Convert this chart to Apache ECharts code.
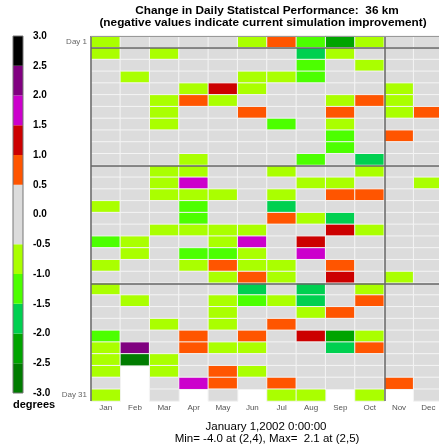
<!DOCTYPE html>
<html>
<head>
<meta charset="utf-8">
<script src="https://cdn.jsdelivr.net/npm/echarts@6/dist/echarts.min.js"></script>
<style>
  html, body { margin: 0; padding: 0; background: #fff; }
  #chart { width: 439px; height: 448px; }
</style>
</head>
<body>
<div id="chart"></div>
<script>
// 月份和日期
var months = ['Jan', 'Feb', 'Mar', 'Apr', 'May', 'Jun', 'Jul', 'Aug', 'Sep', 'Oct', 'Nov', 'Dec'];
var days = [1, 2, 3, 4, 5, 6, 7, 8, 9, 10, 11, 12, 13, 14, 15, 16, 17, 18, 19, 20,
            21, 22, 23, 24, 25, 26, 27, 28, 29, 30, 31];

// 每月逐日数值 (null = 无此日)
var jan = [-0.8, -0.8, 0, 0, 0, 0, 0, 0, 0, 0, 0, 0, 0, 0, -0.8, 0, 0, -1.3, 0, -0.8, 0, -0.8, 0, 0, 0, -1.3, -0.8, -0.8, -0.8, 0, -0.8];
var feb = [0, 0, 0, -0.8, 0, 0, 0, 0, 0, 0, 0, 0, 0, 0, 0, 0, 0, -0.8, -0.8, 0, 0, 0, -0.8, 0, 0, 0, 2.1, -4.0, null, null, null];
var mar = [0, -0.8, 0, 0, 0, -0.8, -0.8, -0.8, 0, 0, 0, -0.8, -0.8, -0.8, 0, 0, -0.8, 0, 0, 0, 0, 0, 0, 0, -0.8, 0, 0, -0.8, -0.8, 0, 0];
var apr = [0, 0, 0, 0, -0.8, 0.8, 0, 0, 0, 0, -0.8, -0.8, 1.8, -0.8, -1.3, -1.3, -0.8, 0, -1.3, -0.8, 0, 0, 0, 0, 0, 0.8, 0.8, 0, 0, 1.8, null];
var may = [0, 0, 0, 0, 1.3, -0.8, 0, 0, 0, 0, 0, 0, 0, -0.8, 0, 0, -0.8, -0.8, -1.3, 0.8, -0.8, 0, -0.8, -0.8, -0.8, 0, -0.8, 0, 0.8, 0.8, 0];
var jun = [-0.8, 0, 0, -0.8, -0.8, 0, 0.8, 0, 0, 0, 0, 0, 0, 0, 0, 0, -0.8, 1.8, -0.8, -0.8, 0.8, -1.8, -1.3, 0, 0, 0.8, -0.8, 0, -0.8, 0, null];
var jul = [0.8, 0, 0, -0.8, 0, 0, 0, -1.3, 0, 0, 0, -0.8, 0, -0.8, -1.8, 0.8, 0, 0, 0, -0.8, -0.8, 0, -0.8, 0, 0.8, 0, 0, 0, 0, 0.8, -0.8];
var aug = [-1.3, -1.8, -1.3, -1.3, 0, 0, 0, 0, 0, 0, -1.3, 0, -0.8, 0, 0, -0.8, 0, 1.3, 1.8, 0, 0, -1.8, -1.8, -0.8, 0, 1.3, 0, 0, 0, 0, -0.8];
var sep = [-2.2, -0.8, 0, 0, 0, -0.8, 0.8, -0.8, -1.3, -1.3, 0, 0, -0.8, 0.8, 0, -1.8, 1.3, 0, 0, 0.8, 1.3, 0, 0, 0.8, 0, -2.2, -1.8, 0, 0, 0, null];
var oct = [-0.8, 0, -0.8, 0, 0, 0.8, 0, 0, 0, 0, -1.8, -0.8, 0, 0.8, 0, 0, -0.8, 0, 0, 0, 0, -0.8, 0.8, 0, 0, -0.8, 0.8, 0, 0, 0, -0.8];
var nov = [0, 0, 0, 0, -0.8, -0.8, -0.8, 0, 0.8, 0, 0, 0, 0, 0, 0, 0, 0, 0, 0, 0, -0.8, 0, 0, 0, 0, 0, 0, 0, 0, 0.8, null];
var dec = [0, 0, 0, 0, 0, 0, 0.8, 0, 0, 0, 0, 0, -0.8, 0, 0, 0, 0, 0, 0, 0, 0, 0, 0, 0, 0, 0, 0, 0, 0, 0, 0];
var monthValues = [jan, feb, mar, apr, may, jun, jul, aug, sep, oct, nov, dec];

// 色标
var bandEdges = [-3, -2.5, -2, -1.5, -1, -0.5, 0.5, 1, 1.5, 2, 2.5, 3];
var bandColors = ['#007c00', '#00a400', '#00d050', '#4cff00', '#aaff00', '#dcdcdc',
                  '#ff5500', '#cc0000', '#cc00cc', '#800080', '#000000'];
var scaleTicks = [-3, 3, 0.5];

// 分隔线 (天 / 月)
var dividerDays = [1, 11, 21];
var dividerMonths = [0, 10];

var titleLines = ['Change in Daily Statistcal Performance:  36 km',
                  '(negative values indicate current simulation improvement)'];
var footLines = ['January 1,2002 0:00:00', 'Min= -4.0 at (2,4), Max=  2.1 at (2,5)'];

var font = '"Liberation Sans", Arial, sans-serif';

var heatData = [];
monthValues.forEach(function(vals, i) {
  vals.forEach(function(v, j) {
    if (v !== null) heatData.push([i, j, v]);
  });
});

var pieces = bandColors.map(function(c, k) {
  var p = { color: c };
  if (k > 0) p.gte = bandEdges[k];
  if (k < bandColors.length - 1) p.lt = bandEdges[k + 1];
  return p;
});

var barData = bandColors.map(function(c, k) {
  return [bandEdges[k], bandEdges[k + 1], k];
});

var lineData = [];
dividerDays.forEach(function(d) { lineData.push({ yAxis: d }); });
dividerMonths.forEach(function(m) { lineData.push({ xAxis: m }); });
lineData.push({ yAxis: 0, lineStyle: { color: '#999', width: 1 } });

var chart = echarts.init(document.getElementById('chart'));
chart.setOption({
  animation: false,
  grid: [
    { left: 91, top: 36, width: 352, height: 365, outerBoundsMode: 'none' },
    { left: 13, top: 36, width: 10, height: 357, show: true, z: 10, outerBoundsMode: 'none',
      borderColor: '#777', borderWidth: 1, backgroundColor: 'transparent' }
  ],
  xAxis: [
    { type: 'category', data: months, gridIndex: 0,
      axisLine: { show: false }, axisTick: { show: false },
      axisLabel: { fontSize: 8, color: '#555', margin: 3, fontFamily: font },
      splitLine: { show: false } },
    { type: 'value', gridIndex: 0, min: 0, max: 12, show: false },
    { type: 'value', gridIndex: 1, min: 0, max: 1, show: false }
  ],
  yAxis: [
    { type: 'category', data: days, gridIndex: 0, inverse: true,
      axisLine: { show: false }, axisTick: { show: false },
      axisLabel: {
        fontSize: 8, color: '#666', margin: 4, fontFamily: font,
        interval: function(idx) { return idx === 0 || idx === days.length - 1; },
        formatter: function(v) { return 'Day ' + v; }
      },
      splitLine: { show: false } },
    { type: 'value', gridIndex: 0, min: 0, max: 31, inverse: true, show: false },
    { type: 'value', gridIndex: 1, min: scaleTicks[0], max: scaleTicks[1], interval: scaleTicks[2],
      position: 'right',
      axisLine: { show: false }, axisTick: { show: false }, splitLine: { show: false },
      axisLabel: {
        fontSize: 10, fontWeight: 'bold', color: '#000', margin: 10, fontFamily: font,
        formatter: function(v) { return v.toFixed(1); }
      } }
  ],
  visualMap: {
    type: 'piecewise', show: false, seriesIndex: 0, dimension: 2, pieces: pieces
  },
  series: [
    {
      type: 'heatmap', xAxisIndex: 0, yAxisIndex: 0, data: heatData,
      itemStyle: { borderColor: '#f4f4f4', borderWidth: 1 },
      emphasis: { disabled: true }
    },
    {
      type: 'line', xAxisIndex: 1, yAxisIndex: 1, data: [], z: 5, silent: true,
      markLine: {
        silent: true, symbol: 'none', label: { show: false },
        lineStyle: { color: '#666', width: 1.5, type: 'solid' },
        data: lineData
      }
    },
    {
      type: 'custom', xAxisIndex: 2, yAxisIndex: 2, data: barData, silent: true,
      renderItem: function(params, api) {
        var p0 = api.coord([0, api.value(0)]);
        var p1 = api.coord([1, api.value(1)]);
        return {
          type: 'rect',
          shape: { x: p0[0], y: p1[1], width: p1[0] - p0[0], height: p0[1] - p1[1] },
          style: { fill: bandColors[api.value(2)] }
        };
      }
    }
  ],
  graphic: [
    { type: 'text', x: 267, y: 11, style: { text: titleLines[0], font: 'bold 11.8px ' + font, fill: '#000', textAlign: 'center', verticalAlign: 'middle' } },
    { type: 'text', x: 263, y: 23, style: { text: titleLines[1], font: 'bold 11.8px ' + font, fill: '#000', textAlign: 'center', verticalAlign: 'middle' } },
    { type: 'text', x: 13, y: 405, style: { text: 'degrees', font: 'bold 11px ' + font, fill: '#000', textAlign: 'left', verticalAlign: 'middle' } },
    { type: 'text', x: 266, y: 427, style: { text: footLines[0], font: '11.5px ' + font, fill: '#000', textAlign: 'center', verticalAlign: 'middle' } },
    { type: 'text', x: 267, y: 439, style: { text: footLines[1], font: '11.5px ' + font, fill: '#000', textAlign: 'center', verticalAlign: 'middle' } }
  ]
});
</script>
</body>
</html>
